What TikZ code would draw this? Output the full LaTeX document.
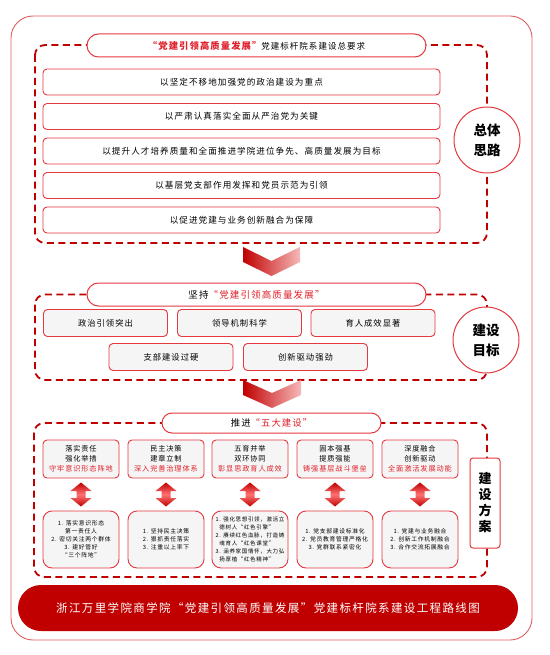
\documentclass[tikz,border=0pt]{standalone}
\usepackage{fontspec}
\usetikzlibrary{calc}
\newfontfamily\cjk{Noto Sans CJK SC}[LetterSpace=12]
\newfontfamily\cjkt{Noto Sans CJK SC}[LetterSpace=0]
\definecolor{dred}{HTML}{C00000}
\definecolor{boxred}{HTML}{E5383F}
\definecolor{textred}{HTML}{E0202A}
\definecolor{graybg}{HTML}{F5F5F5}
\definecolor{pinkr}{HTML}{F7B8B8}
\definecolor{outerred}{HTML}{E06060}
\tikzset{
  x=1pt,y=-1pt,
  base/.style={inner sep=0pt, outer sep=0pt, font=\cjk, text=black},
  rowbox/.style={base, draw=boxred, line width=0.9pt, rounded corners=4pt, fill=white,
    minimum width=397pt, minimum height=26pt, font=\cjk\fontsize{8.6}{10}\selectfont},
  pill/.style={base, draw=boxred, line width=1pt, fill=white, rounded corners=11.5pt, minimum height=23pt},
  goalbox/.style={base, draw=boxred, line width=0.9pt, rounded corners=4pt, fill=graybg,
    minimum width=124pt, minimum height=27pt, font=\cjk\fontsize{8.3}{10}\selectfont},
  colbox/.style={base, draw=boxred, line width=0.9pt, rounded corners=4pt, fill=graybg, align=center,
    minimum width=76pt, minimum height=38pt, font=\cjk\fontsize{7.2}{10}\selectfont},
  listbox/.style={base, draw=boxred, line width=0.9pt, rounded corners=9pt, fill=graybg, align=center,
    minimum width=76pt, minimum height=57pt, font=\cjk\fontsize{5.8}{8}\selectfont},
  circ/.style={base, circle, draw=boxred, line width=1pt, fill=white, minimum size=66pt, align=center,
    font=\cjkt\bfseries\fontsize{13.5}{20}\selectfont},
  dashbox/.style={draw=dred, line width=1.8pt, dash pattern=on 7pt off 4.5pt, rounded corners=10pt},
  chevron/.style={left color=dred, right color=pinkr},
  dblarrow/.pic={
    \shade[top color=dred, bottom color=dred, middle color=red!55!white]
      (0,-12) -- (10.5,-3.5) -- (4.5,-3.5) -- (4.5,3.5) -- (10.5,3.5) -- (0,12)
      -- (-10.5,3.5) -- (-4.5,3.5) -- (-4.5,-3.5) -- (-10.5,-3.5) -- cycle;
  },
}
\begin{document}
\begin{tikzpicture}
\useasboundingbox (0,0) rectangle (549,655);
\fill[white] (0,0) rectangle (549,655);
% outer frame
\draw[outerred, line width=0.9pt, rounded corners=22pt] (11,16) rectangle (532,640);

% ---------- section 1
\draw[dashbox] (35,45) rectangle (487,243);
\node[pill, minimum width=339pt] (s1title) at (256.5,45.5)
  {{\color{textred}\bfseries\fontsize{9.3}{11}\selectfont “党建引领高质量发展”}{\fontsize{8.5}{10}\selectfont 党建标杆院系建设总要求}};
\node[rowbox] (r1) at (241.5,82) {以坚定不移地加强党的政治建设为重点};
\node[rowbox] (r2) at (241.5,116.5) {以严肃认真落实全面从严治党为关键};
\node[rowbox] (r3) at (241.5,151) {以提升人才培养质量和全面推进学院进位争先、高质量发展为目标};
\node[rowbox] (r4) at (241.5,185.5) {以基层党支部作用发挥和党员示范为引领};
\node[rowbox] (r5) at (241.5,220) {以促进党建与业务创新融合为保障};
\node[circ] (c1) at (487,140) {总体\\思路};

% chevron 1
\shade[chevron] (243,247) -- (271.5,261) -- (300,247) -- (300,262) -- (271.5,276) -- (243,262) -- cycle;

% ---------- section 2
\draw[dashbox] (35,294.5) rectangle (487,380);
\node[pill, minimum width=339pt, font=\cjk\fontsize{9.5}{11}\selectfont] (s2title) at (256.5,294.5)
  {坚持{\color{textred}“党建引领高质量发展”}};
\node[goalbox] (g1) at (105.5,323) {政治引领突出};
\node[goalbox] (g2) at (239.5,323) {领导机制科学};
\node[goalbox] (g3) at (373,323) {育人成效显著};
\node[goalbox] (g4) at (171,357) {支部建设过硬};
\node[goalbox] (g5) at (305.5,357) {创新驱动强劲};
\node[circ] (c2) at (486,340) {建设\\目标};

% chevron 2
\shade[chevron] (243,380) -- (272,393) -- (301,380) -- (301,395) -- (272,408) -- (243,395) -- cycle;

% ---------- section 3
\draw[dashbox] (34,423) rectangle (487,577);
\node[pill, minimum width=219pt, minimum height=20pt, rounded corners=10pt, font=\cjk\fontsize{9.3}{11}\selectfont] (s3title) at (271.5,423)
  {推进{\color{textred}“五大建设”}};
\node[colbox] (t1) at (81,459) {落实责任\\强化举措\\{\color{textred}守牢意识形态阵地}};
\node[colbox] (t2) at (166,459) {民主决策\\建章立制\\{\color{textred}深入完善治理体系}};
\node[colbox] (t3) at (250,459) {五育并举\\双环协同\\{\color{textred}彰显思政育人成效}};
\node[colbox] (t4) at (335,459) {固本强基\\提质强能\\{\color{textred}铸强基层战斗堡垒}};
\node[colbox] (t5) at (420,459) {深度融合\\创新驱动\\{\color{textred}全面激活发展动能}};
\node[listbox] (b1) at (81,539.5) {1. 落实意识形态\\第一责任人\\2. 密切关注两个群体\\3. 建好管好\\“三个阵地”};
\node[listbox] (b2) at (166,539.5) {1. 坚持民主决策\\2. 狠抓责任落实\\3. 注重以上率下};
\node[listbox, align=left, font=\cjk\fontsize{5.5}{8}\selectfont] (b3) at (250,539.5) {1. 强化思想引领，激活立\\\ \ 德树人“红色引擎”\\2. 赓续红色血脉，打造铸\\\ \ 魂育人“红色课堂”\\3. 涵养家国情怀，大力弘\\\ \ 扬厚植“红色精神”};
\node[listbox] (b4) at (335,539.5) {1. 党支部建设标准化\\2. 党员教育管理严格化\\3. 党群联系紧密化};
\node[listbox] (b5) at (420,539.5) {1. 党建与业务融合\\2. 创新工作机制融合\\3. 合作交流拓展融合};
\foreach \i in {1,...,5} {
  \pic at ($(t\i.south)!0.5!(b\i.north)$) {dblarrow};
}
\node[base, draw=boxred, line width=1pt, fill=white, rounded corners=3pt, minimum width=30pt, minimum height=90pt,
  align=center, font=\cjkt\bfseries\fontsize{13}{16}\selectfont] (plan) at (485,503) {建\\设\\方\\案};

% ---------- banner
\node[base, fill=dred, rounded corners=23pt, minimum width=500pt, minimum height=46pt, text=white,
  font=\cjk\fontsize{11.5}{13}\selectfont] (banner) at (268,608)
  {浙江万里学院商学院“党建引领高质量发展”党建标杆院系建设工程路线图};
\end{tikzpicture}
\end{document}
